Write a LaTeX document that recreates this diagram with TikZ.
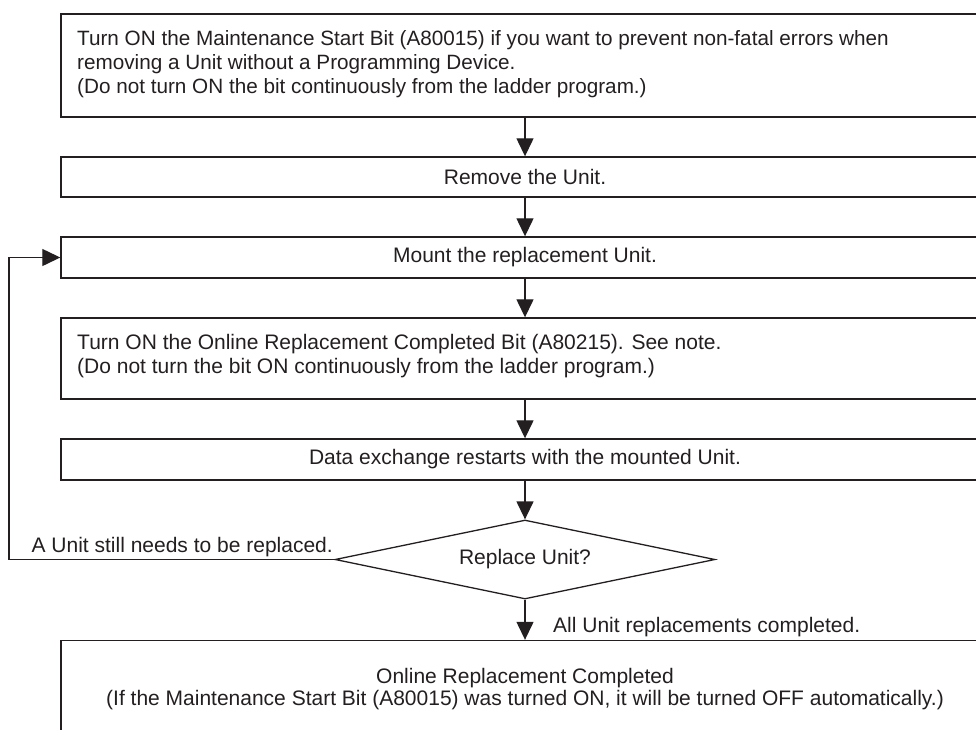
\documentclass[tikz,border=0pt]{standalone}
\usepackage{fontspec}
\setmainfont{Liberation Sans}
\usetikzlibrary{arrows.meta,shapes.geometric}
\definecolor{ink}{HTML}{231F20}
\begin{document}
\begin{tikzpicture}[x=1pt,y=-1pt,
  font=\fontsize{21}{24}\selectfont, text=ink,
  box/.style={draw=ink, line width=1.4pt, rectangle, inner sep=0pt, minimum width=928pt},
  txt/.style={anchor=base west, inner sep=0pt},
  txtc/.style={anchor=base, inner sep=0pt},
  arr/.style={draw=ink, line width=1.3pt, -{Triangle[length=18pt,width=17pt]}},
  dec/.style={draw=ink, line width=1.3pt, diamond, aspect=4.8, inner sep=0pt, minimum width=380pt, minimum height=79pt}]
\useasboundingbox (0,0) rectangle (976,729);

% boxes
\node[box, minimum height=103pt] (b1) at (525,65.5) {};
\node[box, minimum height=40pt] (b2) at (525,177) {Remove the Unit.};
\node[box, minimum height=41pt] (b3) at (525,257.5) {Mount the replacement Unit.};
\node[box, minimum height=81pt] (b4) at (525,358.5) {};
\node[box, minimum height=41pt] (b5) at (525,459.5) {Data exchange restarts with the mounted Unit.};
\node[dec] (d) at (525,559.5) {Replace Unit?};
\node[box, minimum height=93pt] (b6) at (525,687) {};

% box texts
\begin{scope}[font=\fontsize{20.7}{24}\selectfont]
\node[txt] (t11) at (77,45) {Turn ON the Maintenance Start Bit (A80015) if you want to prevent non-fatal errors when};
\node[txt] (t12) at (77,69) {removing a Unit without a Programming Device.};
\node[txt] (t13) at (77,93) {(Do not turn ON the bit continuously from the ladder program.)};
\end{scope}
\node[txt] (t41) at (77,349) {Turn ON the Online Replacement Completed Bit (A80215). See note.};
\node[txt] (t42) at (77,373) {(Do not turn the bit ON continuously from the ladder program.)};
\node[txtc] (t61) at (525,683) {Online Replacement Completed};
\node[txtc] (t62) at (525,705) {(If the Maintenance Start Bit (A80015) was turned ON, it will be turned OFF automatically.)};

% connectors
\coordinate (c1) at (9,559.5);
\coordinate (c2) at (9,257.5);

\draw[arr] (b1) -- (b2);
\draw[arr] (b2) -- (b3);
\draw[arr] (b3) -- (b4);
\draw[arr] (b4) -- (b5);
\draw[arr] (b5) -- (d);
\draw[arr] (d) -- (b6);
\draw[arr] (d.west) -- (c1) -- (c2) -- (b3.west);

\node[anchor=base east, inner sep=0pt] (lab1) at (333,552) {A Unit still needs to be replaced.};
\node[anchor=base west, inner sep=0pt] (lab2) at (553,632) {All Unit replacements completed.};
\end{tikzpicture}
\end{document}
